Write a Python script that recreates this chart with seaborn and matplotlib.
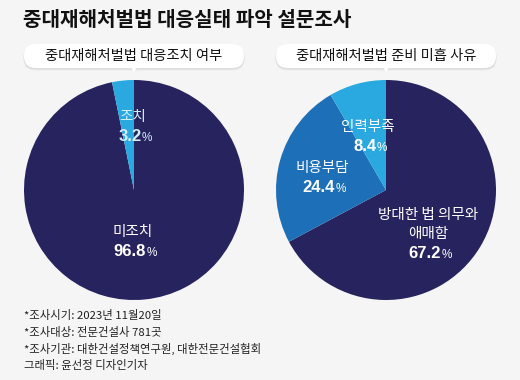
import matplotlib
matplotlib.use('Agg')
import matplotlib.pyplot as plt
import seaborn as sns
from matplotlib.patches import FancyBboxPatch, Polygon

sns.set_theme(style='white')
plt.rcParams['font.family'] = ['Noto Sans CJK KR', 'DejaVu Sans']

# data
title = '중대재해처벌법 대응실태 파악 설문조사'
left_title = '중대재해처벌법 대응조치 여부'
left_labels = ['미조치', '조치']
left_values = [96.8, 3.2]
right_title = '중대재해처벌법 준비 미흡 사유'
right_labels = ['방대한 법 의무와\n애매함', '비용부담', '인력부족']
right_values = [67.2, 24.4, 8.4]
notes = ['*조사시기: 2023년 11월20일',
         '*조사대상: 전문건설사 781곳',
         '*조사기관: 대한건설정책연구원, 대한전문건설협회',
         '그래픽: 윤선정 디자인기자']

navy = '#27235f'
mid_blue = '#1d70b8'
light_blue = '#2aa8e0'
bg = '#f5f5f5'

W, H = 520, 380
fig = plt.figure(figsize=(W / 100, H / 100), dpi=100, facecolor=bg)


def px_axes(x0, y0, w, h, **kw):
    return fig.add_axes([x0 / W, 1 - (y0 + h) / H, w / W, h / H], **kw)


# pies
axl = px_axes(24, 80, 220, 220)
axl.pie(left_values, colors=[navy, light_blue], startangle=90, counterclock=False,
        wedgeprops=dict(linewidth=0))
axl.set_xlim(-1, 1)
axl.set_ylim(-1, 1)
axl.axis('off')

axr = px_axes(276, 80, 220, 220)
axr.pie(right_values, colors=[navy, mid_blue, light_blue], startangle=90, counterclock=False,
        wedgeprops=dict(linewidth=0))
axr.set_xlim(-1, 1)
axr.set_ylim(-1, 1)
axr.axis('off')

# overlay in pixel coords
ov = px_axes(0, 0, W, H, zorder=5)
ov.set_xlim(0, W)
ov.set_ylim(H, 0)
ov.axis('off')
ov.patch.set_alpha(0)

ov.text(23, 20, title, fontsize=14.5, fontweight='black', color='#111111', va='center', ha='left')


def pill(cx, cy, w, h, text):
    for dy, a in [(2.5, 0.04), (1.5, 0.06)]:
        ov.add_patch(FancyBboxPatch((cx - w / 2 - 0.5, cy - h / 2 + dy), w + 1, h,
                                    boxstyle='round,pad=0,rounding_size=%f' % (h / 2),
                                    fc='#000000', ec='none', alpha=a))
    ov.add_patch(FancyBboxPatch((cx - w / 2, cy - h / 2), w, h,
                                boxstyle='round,pad=0,rounding_size=%f' % (h / 2),
                                fc='white', ec='none'))
    ov.add_patch(Polygon([(cx - 3, cy + h / 2 - 0.5), (cx + 3, cy + h / 2 - 0.5), (cx, cy + h / 2 + 4)],
                         closed=True, fc='white', ec='none'))
    ov.text(cx, cy, text, fontsize=10.3, color='#111111', ha='center', va='center')


pill(134, 56, 220, 24, left_title)
pill(386, 56, 220, 24, right_title)


def pct_label(x, y, value, color):
    t = ov.text(x - 3, y, '%.1f' % value, fontsize=12, fontweight='bold', color=color,
                family='Liberation Sans', ha='center', va='baseline')
    ov.annotate('%', xy=(1, 0), xycoords=t, fontsize=8.5, color=color, family='Liberation Sans',
                va='bottom', ha='left')


def slice_label(x, y, name, value, color='white'):
    lines = name.split('\n')
    for i, line in enumerate(lines):
        ov.text(x, y + i * 19, line, fontsize=10.5, color=color, ha='center', va='center')
    pct_label(x, y + len(lines) * 19 + 5, value, color)


slice_label(133, 117, left_labels[1], left_values[1], color='#d4effb')
slice_label(133, 232, left_labels[0], left_values[0])
slice_label(368, 127, right_labels[2], right_values[2])
slice_label(322, 168, right_labels[1], right_values[1])
slice_label(428, 215, right_labels[0], right_values[0])

for i, note in enumerate(notes):
    ov.text(24, 316 + i * 16.5, note, fontsize=8.2, color='#222222', ha='left', va='center')

fig.savefig('out.png', dpi=100, facecolor=bg)
